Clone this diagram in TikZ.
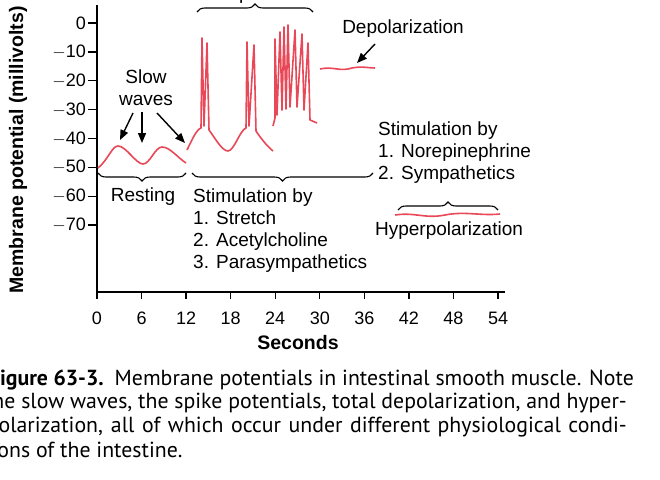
\documentclass[tikz,border=0pt]{standalone}
\usepackage{fontspec}
\setmainfont{Liberation Sans}
\newfontfamily\capfont{PT Sans}
\usetikzlibrary{decorations.pathreplacing,arrows.meta}
\begin{document}
\begin{tikzpicture}[x=1pt,y=-1pt,
  lbl/.style={font=\fontsize{19}{22}\selectfont,inner sep=0pt},
  tck/.style={font=\fontsize{18}{20}\selectfont,inner sep=0pt},
  trace/.style={draw={rgb,255:red,232;green,72;blue,88},line width=1.6pt,line join=round},
  br/.style={decorate,decoration={brace,amplitude=8pt},line width=1.1pt},
  arr/.style={-{Triangle[length=10pt,width=8pt]},line width=1.4pt},
  captxt/.style={font=\capfont\fontsize{21.8}{23}\selectfont,inner sep=0pt}]
\useasboundingbox (0,0) rectangle (660,479);
% axes
\draw[line width=1.8pt] (97,5) -- (97,292) -- (505,292);
\foreach \v [count=\i from 0] in {0,10,20,30,40,50,60,70}{
  \pgfmathsetmacro\yy{23+\i*28.86}
  \draw[line width=1.3pt] (88,\yy) -- (97,\yy);
  \node[tck,anchor=east] (yt\i) at (86,\yy) {\ifnum\i=0 0\else $-$\v\fi};
}
\foreach \t [count=\i from 0] in {0,6,12,18,24,30,36,42,48,54}{
  \pgfmathsetmacro\xx{97+\i*44.56}
  \draw[line width=1.3pt] (\xx,292) -- (\xx,299);
  \node[tck] (xt\i) at (\xx,318) {\t};
}
\node[lbl,font=\bfseries\fontsize{19.5}{22}\selectfont,rotate=90] (ylab) at (18,150) {Membrane potential (millivolts)};
\node[lbl,font=\bfseries\fontsize{19.5}{22}\selectfont] (xlab) at (298,343) {Seconds};
% traces
\draw[trace] (98,168) .. controls (108,160) and (112,146) .. (118,146) .. controls (126,146) and (136,164) .. (143,164) .. controls (150,164) and (155,147) .. (162,147) .. controls (170,147) and (178,158) .. (186,163);
\draw[trace] (187,150) .. controls (192,140) and (196,130) .. (201,128) -- (202,38) -- (204,126) -- (207,43) -- (209,130) .. controls (215,138) and (222,151) .. (228,151) .. controls (234,151) and (240,130) .. (246,128) -- (247,42) -- (249,126) -- (254,45) -- (256,131) .. controls (262,140) and (268,147) .. (273,151);
\draw[trace] (273,126) -- (275,118) -- (275,39) -- (277,115) -- (280,32) -- (282,110) -- (284,27) -- (286,109) -- (288,25) -- (290,107) -- (295,30) -- (297,107) -- (302,34) -- (304,110) -- (308,43) -- (310,120) -- (317,123);
\draw[trace] (320,69) .. controls (333,66) and (340,72) .. (352,68) .. controls (362,66) and (368,68) .. (375,68);
\draw[trace] (395,215) .. controls (415,212) and (425,219) .. (445,215) .. controls (465,211) and (480,216) .. (500,214);
% braces
\draw[br] (186,173) -- (98,173) node[midway] (bRest) {};
\draw[br] (373,173) -- (192,173) node[midway] (bStim) {};
\draw[br] (197,12) -- (313,12) node[midway] (bSpk) {};
\draw[br] (398,210) -- (498,210) node[midway] (bHyp) {};
% labels
\node[lbl] (spikes) at (255,-5) {Spikes};
\node[lbl,align=center] (slow) at (146,88) {Slow\\waves};
\coordinate (a1) at (120,140); \coordinate (a2) at (142,143); \coordinate (a3) at (185,143);
\draw[arr] (133,113) -- (a1);
\draw[arr] (142,112) -- (a2);
\draw[arr] (157,113) -- (a3);
\node[lbl] (dep) at (403,29) {Depolarization};
\coordinate (a4) at (357,63);
\draw[arr] (375,44) -- (a4);
\node[lbl,anchor=west,align=left] (nor) at (378,153) {Stimulation by\\1. Norepinephrine\\2. Sympathetics};
\node[lbl] (rest) at (143,197) {Resting};
\node[lbl,anchor=north west,align=left] (stim) at (193,189) {Stimulation by\\1. Stretch\\2. Acetylcholine\\3. Parasympathetics};
\node[lbl] (hyp) at (449,231) {Hyperpolarization};
% caption
\node[captxt,anchor=east] (c1) at (634,380) {\textbf{Figure 63-3.}\hspace{0.5em}Membrane potentials in intestinal smooth muscle. Note};
\node[captxt,anchor=east] (c2) at (627,403) {the slow waves, the spike potentials, total depolarization, and hyper-};
\node[captxt,anchor=east] (c3) at (627,427) {\makebox[640pt][s]{polarization, all of which occur under different physiological condi-}};
\node[captxt,anchor=west] (c4) at (-16,450) {tions of the intestine.};
\end{tikzpicture}
\end{document}
